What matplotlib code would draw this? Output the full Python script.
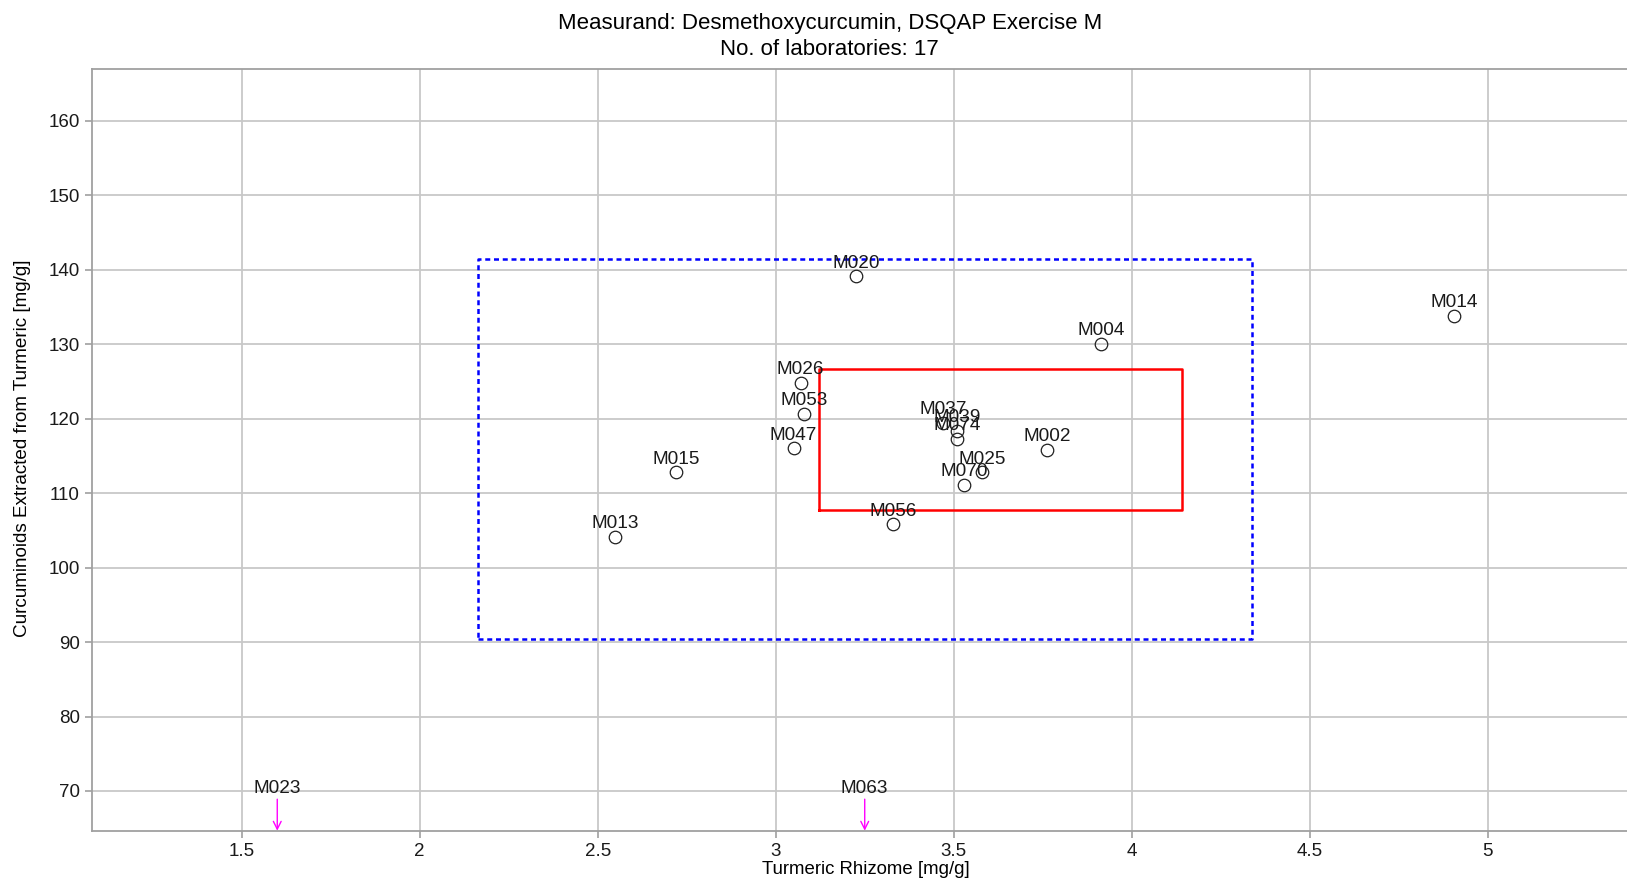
import matplotlib.pyplot as plt

plt.rcParams['font.family'] = ['Liberation Sans', 'DejaVu Sans']

# === Data ===
labs = ["M020", "M014", "M004", "M026", "M053", "M047", "M015", "M013",
        "M056", "M070", "M025", "M002", "M037", "M039", "M074"]
x_vals = [3.226, 4.905, 3.914, 3.07, 3.08, 3.05, 2.72, 2.55,
          3.33, 3.53, 3.58, 3.762, 3.47, 3.51, 3.51]
y_vals = [139.1, 133.8, 130.0, 124.8, 120.6, 116.0, 112.8, 104.1,
          105.8, 111.1, 112.8, 115.8, 119.4, 118.4, 117.3]

# labs with y below the plotted range
low_labs = ["M023", "M063"]
low_x = [1.60, 3.25]

# consensus box (red) and tolerance box (blue dashed)
red_box = [3.121, 4.141, 107.7, 126.6]
blue_box = [2.165, 4.339, 90.4, 141.4]

xticks = [1.5, 2, 2.5, 3, 3.5, 4, 4.5, 5]
xticklabels = ["1.5", "2", "2.5", "3", "3.5", "4", "4.5", "5"]
yticks = [70, 80, 90, 100, 110, 120, 130, 140, 150, 160]

# === Figure ===
fig = plt.figure(figsize=(16.27, 8.81), dpi=100)
ax = fig.add_axes([0.0564, 0.0571, 0.9436, 0.8642])
ax.set_xlim(1.079, 5.391)
ax.set_ylim(64.67, 166.9)

ax.grid(True, color="#c8c8c8", linewidth=1.3)
ax.set_axisbelow(True)
for side in ["left", "bottom", "top"]:
    ax.spines[side].set_color("#a0a0a0")
    ax.spines[side].set_linewidth(1.3)
ax.spines["right"].set_visible(False)
ax.tick_params(colors="#a0a0a0", labelcolor="#1a1a1a", labelsize=13.5, length=5, width=1.2)
ax.set_xticks(xticks)
ax.set_xticklabels(xticklabels)
ax.set_yticks(yticks)

# boxes
x0, x1, y0, y1 = blue_box
ax.plot([x0, x1, x1, x0, x0], [y0, y0, y1, y1, y0], color="blue",
        linestyle=(0, (2, 1.5)), linewidth=1.8)
x0, x1, y0, y1 = red_box
ax.plot([x0, x1, x1, x0, x0], [y0, y0, y1, y1, y0], color="red", linewidth=1.8)

# points
ax.plot(x_vals, y_vals, linestyle="none", marker="o", markersize=9,
        markerfacecolor="none", markeredgecolor="#202020", markeredgewidth=0.9)
for lab, x, y in zip(labs, x_vals, y_vals):
    ax.annotate(lab, (x, y), xytext=(0, 9.5), textcoords="offset points",
                ha="center", va="center", fontsize=13.7, color="#1a1a1a")

# off-scale labs
ylo = ax.get_ylim()[0]
for lab, x in zip(low_labs, low_x):
    ax.annotate("", xy=(x, ylo), xytext=(x, 68.9),
                arrowprops=dict(arrowstyle="->", color="magenta", lw=1.0,
                                shrinkA=0, shrinkB=0, mutation_scale=14))
    ax.text(x, 70.4, lab, ha="center", va="center", fontsize=13.7, color="#1a1a1a")

# === Text ===
fig.text(0.510, 1 - 23.5 / 881, "Measurand: Desmethoxycurcumin, DSQAP Exercise M",
         ha="center", va="center", fontsize=16)
fig.text(0.510, 1 - 49.5 / 881, "No. of laboratories: 17",
         ha="center", va="center", fontsize=16)
fig.text(0.532, 1 - 869.5 / 881, "Turmeric Rhizome [mg/g]",
         ha="center", va="center", fontsize=13.4)
fig.text(23 / 1627, 1 - 448 / 881, "Curcuminoids Extracted from Turmeric [mg/g]",
         ha="center", va="center", rotation=90, fontsize=13.6)

plt.savefig("out.png", dpi=100)
